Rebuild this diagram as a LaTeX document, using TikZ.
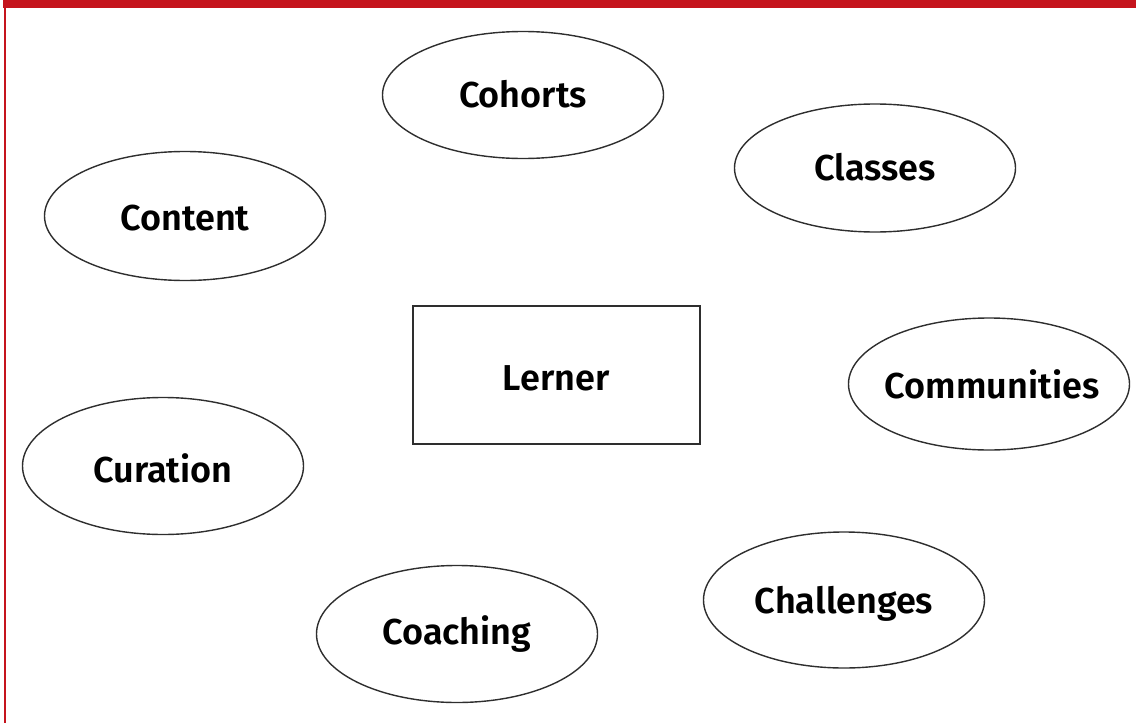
\documentclass[tikz,border=0pt]{standalone}
\usepackage{fontspec}
\setsansfont{Fira Sans}[BoldFont={Fira Sans SemiBold}]
\usetikzlibrary{shapes.geometric}
\definecolor{framered}{HTML}{C5141D}
\definecolor{outline}{HTML}{2E2E2E}
\begin{document}
\begin{tikzpicture}[x=1pt,y=-1pt,
  bubble/.style={ellipse, draw=outline, line width=1.4pt, inner sep=0pt,
                 minimum width=281pt, minimum height=#1},
  bubble/.default=130pt,
  word/.style={font=\sffamily\bfseries\fontsize{36}{40}\selectfont, anchor=base, inner sep=0pt},
  centrebox/.style={draw=outline, line width=1.6pt, inner sep=0pt,
                    minimum width=287pt, minimum height=138pt}
]
\useasboundingbox (0,0) rectangle (1136,723);

% frame: top band and left rule
\fill[framered] (3,0) rectangle (1136,8);
\fill[framered] (3.5,8) rectangle (6,723);

% centre box
\node[centrebox] (lerner) at (556.5,375) {};
\node[word] (lernertext) at (556,390) {Lerner};

% surrounding topics
\node[bubble=127pt] (cohorts) at (523,95) {};
\node[word] at (523,107) {Cohorts};

\node[bubble=128pt] (classes) at (875,168) {};
\node[word] at (875,180) {Classes};

\node[bubble=129pt] (content) at (185,216) {};
\node[word] at (185,230) {Content};

\node[bubble=132pt] (communities) at (989,384) {};
\node[word] at (992,398) {Communities};

\node[bubble=137pt] (curation) at (163,466) {};
\node[word] at (163,482) {Curation};

\node[bubble=136pt] (challenges) at (844,600) {};
\node[word] at (844,613) {Challenges};

\node[bubble=137pt] (coaching) at (457,634) {};
\node[word] at (457,644) {Coaching};
\end{tikzpicture}
\end{document}
